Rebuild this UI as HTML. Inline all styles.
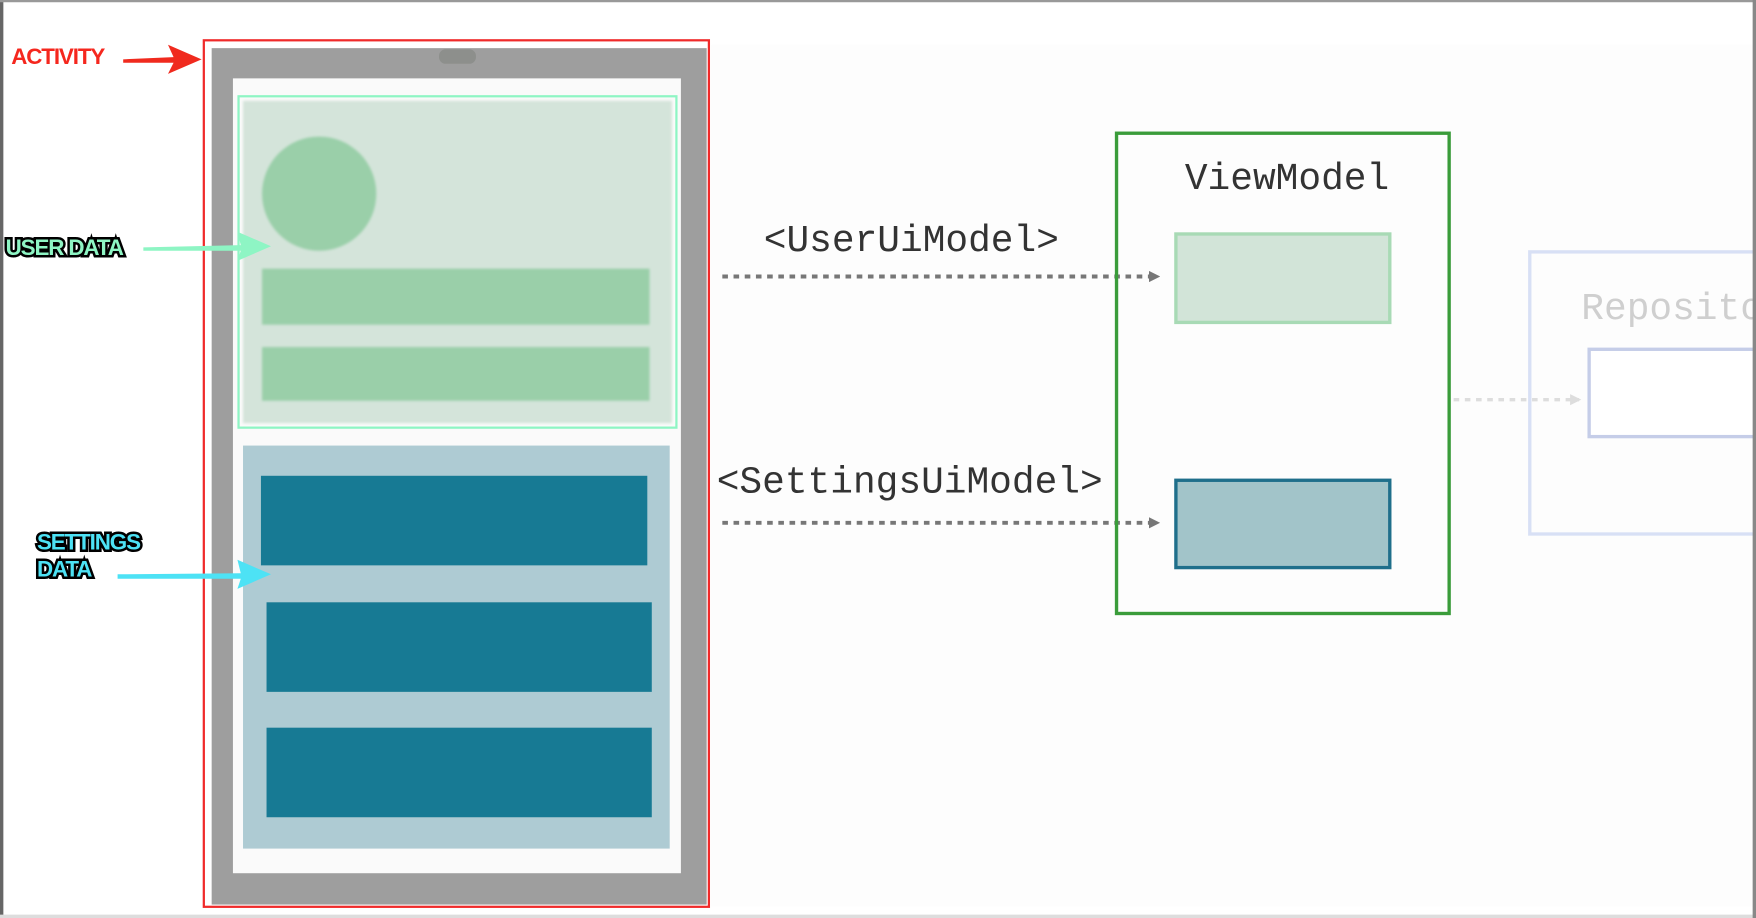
<!DOCTYPE html>
<html><head><meta charset="utf-8"><style>
html,body{margin:0;padding:0;background:#fff;overflow:hidden}
svg{display:block}
</style></head><body>
<svg width="1756" height="918" viewBox="0 0 1568 820" preserveAspectRatio="none" xmlns="http://www.w3.org/2000/svg">
<defs>
<marker id="ah" markerWidth="10" markerHeight="10" refX="8" refY="5" orient="auto" markerUnits="userSpaceOnUse"><path d="M0,0 L10,5 L0,10 Z" fill="#777"/></marker>
<marker id="ah2" markerWidth="10" markerHeight="10" refX="8" refY="5" orient="auto" markerUnits="userSpaceOnUse"><path d="M0,0 L10,5 L0,10 Z" fill="#ddd"/></marker>
<filter id="blur"><feGaussianBlur stdDeviation="1.2"/></filter>
</defs>
<rect width="1568" height="820" fill="#fff"/>
<rect x="635" y="40" width="930" height="770" fill="#fdfdfd"/>
<rect x="0" y="0" width="3" height="820" fill="#666"/>
<rect x="0" y="0" width="1568" height="2" fill="#999"/>
<rect x="0" y="817" width="1568" height="3" fill="#ddd"/>

<!-- phone -->
<rect x="189" y="43" width="442" height="765" fill="#9e9e9e"/>
<rect x="392" y="44" width="33" height="13" rx="6" fill="#8d8f8c"/>
<rect x="208" y="70" width="400" height="710" fill="#fafafa"/>
<rect x="217" y="90" width="383" height="288" fill="#d4e4da" filter="url(#blur)"/>
<rect x="213" y="86" width="391" height="296" fill="none" stroke="#8ef5c4" stroke-width="2"/>
<circle cx="285" cy="173" r="51" fill="#9acfa9" filter="url(#blur)"/>
<rect x="234" y="240" width="346" height="50" fill="#9acfa9" filter="url(#blur)"/>
<rect x="234" y="310" width="346" height="48" fill="#9acfa9" filter="url(#blur)"/>
<rect x="217" y="398" width="381" height="360" fill="#aecbd3"/>
<rect x="233" y="425" width="345" height="80" fill="#177a94"/>
<rect x="238" y="538" width="344" height="80" fill="#177a94"/>
<rect x="238" y="650" width="344" height="80" fill="#177a94"/>
<rect x="182" y="36" width="451" height="774" fill="none" stroke="#f02a2a" stroke-width="2"/>

<!-- labels -->
<g font-family="Liberation Sans, sans-serif" font-weight="bold" font-size="20" letter-spacing="-1">
<text x="10" y="57" fill="#f5271e" stroke="#fff" stroke-width="4" paint-order="stroke">ACTIVITY</text>
<text x="5" y="228" fill="#8ef5c4" stroke="#000" stroke-width="4.5" paint-order="stroke">USER DATA</text>
<text x="33" y="491" fill="#4de2f5" stroke="#000" stroke-width="4.5" paint-order="stroke">SETTINGS</text>
<text x="33" y="515" fill="#4de2f5" stroke="#000" stroke-width="4.5" paint-order="stroke">DATA</text>
</g>
<path d="M110,53 L155,51 L150,40 L180,53 L150,66 L155,56 L110,56 Z" fill="#f02a1e"/>
<path d="M128,221 L215,219 L212,207 L242,220 L212,233 L215,224 L128,224 Z" fill="#8ef5c4"/>
<path d="M105,513 L215,512 L212,500 L242,513 L212,526 L215,517 L105,517 Z" fill="#4de2f5"/>

<!-- connectors -->
<g font-family="Liberation Mono, DejaVu Sans Mono, monospace" font-size="33.8" fill="#333">
<text x="682" y="224">&lt;UserUiModel&gt;</text>
<text x="640" y="440">&lt;SettingsUiModel&gt;</text>
<text x="1058" y="169">ViewModel</text>
<text x="1412" y="285" fill="#cfcfcf">Repository</text>
</g>
<line x1="645" y1="247" x2="1034" y2="247" stroke="#777" stroke-width="3.5" stroke-dasharray="5,5" marker-end="url(#ah)"/>
<line x1="645" y1="467" x2="1034" y2="467" stroke="#777" stroke-width="3.5" stroke-dasharray="5,5" marker-end="url(#ah)"/>

<!-- viewmodel -->
<rect x="997" y="119" width="297" height="429" fill="none" stroke="#3a9c3a" stroke-width="3"/>
<rect x="1050" y="209" width="191" height="79" fill="#d2e4d8" stroke="#a8dab5" stroke-width="3"/>
<rect x="1050" y="429" width="191" height="78" fill="#a2c4c9" stroke="#1f6f8b" stroke-width="3"/>

<!-- repository -->
<rect x="1366" y="225" width="210" height="252" fill="none" stroke="#d8e0f5" stroke-width="3"/>
<rect x="1419" y="312" width="160" height="78" fill="#fff" stroke="#c5cde8" stroke-width="3"/>
<line x1="1298" y1="357" x2="1410" y2="357" stroke="#ddd" stroke-width="3" stroke-dasharray="5,5" marker-end="url(#ah2)"/>
<rect x="1565" y="0" width="3" height="820" fill="#888"/>
</svg>
</body></html>
